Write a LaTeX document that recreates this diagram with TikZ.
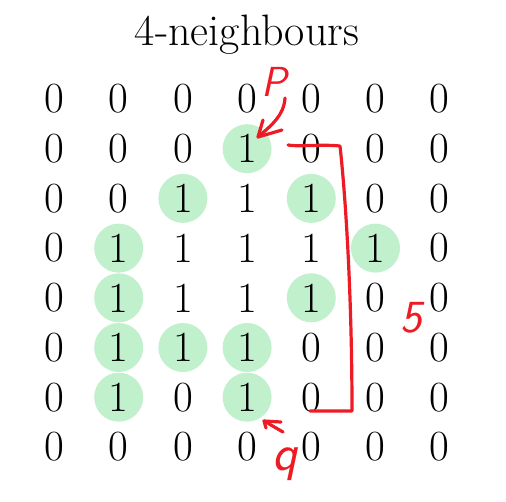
\documentclass[tikz,border=0pt]{standalone}
\definecolor{hlgreen}{RGB}{193,240,205}
\definecolor{inkred}{RGB}{237,28,36}
\begin{document}
\begin{tikzpicture}[x=1pt,y=-1pt,
  digit/.style={inner sep=0pt, font=\fontsize{43}{48}\selectfont},
  hl/.style={circle, minimum size=49pt, inner sep=0pt, fill=hlgreen},
  ink/.style={draw=inkred, line width=3.2pt, line cap=round, line join=round},
  hand/.style={text=inkred, font=\fontsize{42}{44}\selectfont\sffamily\slshape, inner sep=0pt}]
\useasboundingbox (0,0) rectangle (506,501);
\node[anchor=base, inner sep=0pt, font=\fontsize{44}{48}\selectfont] (title) at (247,45) {4-neighbours};
% highlighted cells
\foreach \i/\j in {1/3,2/2,2/4,3/1,3/5,4/1,4/4,5/1,5/2,5/3,6/1,6/3}
  \node[hl] (h-\i-\j) at (54.5+64.2*\j, 99+49.7*\i) {};
% digits
\foreach \row [count=\i from 0] in {{0,0,0,0,0,0,0},{0,0,0,1,0,0,0},{0,0,1,1,1,0,0},{0,1,1,1,1,1,0},{0,1,1,1,1,0,0},{0,1,1,1,0,0,0},{0,1,0,1,0,0,0},{0,0,0,0,0,0,0}}
  \foreach \v [count=\j from 0] in \row
    \node[digit] (c-\i-\j) at (54.5+64.2*\j, 99+49.7*\i) {\v};
% handwritten annotations
\node[hand] (p) at (274,82) {P};
\node[hand, font=\fontsize{46}{48}\selectfont\sffamily\slshape] (five) at (411,318) {5};
\node[hand, font=\fontsize{52}{54}\selectfont\sffamily\slshape] (q) at (285,464) {q};
\coordinate (pa) at (285,98);
\coordinate (pt) at (258,137);
\draw[ink] (pa) .. controls (284,115) and (272,125) .. (pt);
\draw[ink] (263,120) -- (pt) -- (282,130);
\coordinate (qa) at (283,432);
\coordinate (qt) at (264,421);
\draw[ink] (qa) -- (qt);
\draw[ink] (281,422) -- (qt) -- (266,428);
\coordinate (b1) at (288,145);
\coordinate (b2) at (340,146);
\coordinate (b3) at (352,411);
\coordinate (b4) at (310,411);
\draw[ink] (b1) .. controls (300,147) and (320,144) .. (b2) .. controls (346,200) and (352,300) .. (b3) -- (b4);
\end{tikzpicture}
\end{document}
